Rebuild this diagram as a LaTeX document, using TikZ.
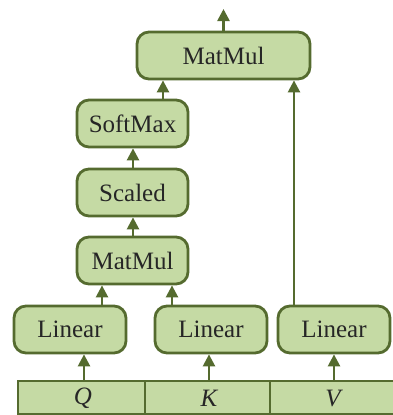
\documentclass[tikz,border=0pt]{standalone}
\usepackage{fontspec}
\setmainfont{Liberation Serif}
\usetikzlibrary{arrows.meta}
\definecolor{boxfill}{HTML}{C5DAA4}
\definecolor{boxline}{HTML}{556B2F}
\tikzset{
  blk/.style={draw=boxline, fill=boxfill, line width=2.8pt, rounded corners=12pt,
    minimum height=47pt, inner sep=0pt, font=\fontsize{25}{25}\selectfont, text=black!85},
  cell/.style={draw=boxline, fill=boxfill, line width=2.8pt, minimum height=33pt, inner sep=0pt},
  lbl/.style={font=\fontsize{25}{25}\selectfont\itshape, text=black!85, inner sep=0pt},
  arr/.style={draw=boxline, line width=2.5pt, -{Triangle[length=12pt,width=12pt]}}
}
\begin{document}
\begin{tikzpicture}[x=1pt,y=-1pt]
\useasboundingbox (0,0) rectangle (393,415);
% input bar
\node[cell, minimum width=127pt] (cq) at (81.5,397.5) {};
\node[cell, minimum width=125pt] (ck) at (207.5,397.5) {};
\node[cell, minimum width=126pt] (cv) at (333,397.5) {};
\node[lbl] (q) at (83,398) {Q};
\node[lbl] (k) at (209,398) {K};
\node[lbl] (v) at (333,398) {V};
% linears
\node[blk, minimum width=112pt] (l1) at (70,329.5) {Linear};
\node[blk, minimum width=112pt] (l2) at (211,329.5) {Linear};
\node[blk, minimum width=112pt] (l3) at (334,329.5) {Linear};
% stack
\node[blk, minimum width=111pt] (mm1) at (132.5,260.5) {MatMul};
\node[blk, minimum width=111pt] (sc) at (132.5,192.5) {Scaled};
\node[blk, minimum width=111pt] (sm) at (132.5,123.5) {SoftMax};
\node[blk, minimum width=173pt] (mm2) at (223.5,55.5) {MatMul};
\coordinate (out) at (223.5,9);
% arrows
\draw[arr] (cq.north -| 84,0) -- (l1.south -| 84,0);
\draw[arr] (ck.north -| 209,0) -- (l2.south -| 209,0);
\draw[arr] (cv.north -| 334,0) -- (l3.south -| 334,0);
\draw[arr] (l1.north -| 102,0) -- (mm1.south -| 102,0);
\draw[arr] (l2.north -| 172,0) -- (mm1.south -| 172,0);
\draw[arr] (mm1.north -| 133,0) -- (sc.south -| 133,0);
\draw[arr] (sc.north -| 133,0) -- (sm.south -| 133,0);
\draw[arr] (sm.north -| 163,0) -- (mm2.south -| 163,0);
\draw[arr] (l3.north -| 294,0) -- (mm2.south -| 294,0);
\draw[arr] (mm2.north) -- (out);
\end{tikzpicture}
\end{document}
